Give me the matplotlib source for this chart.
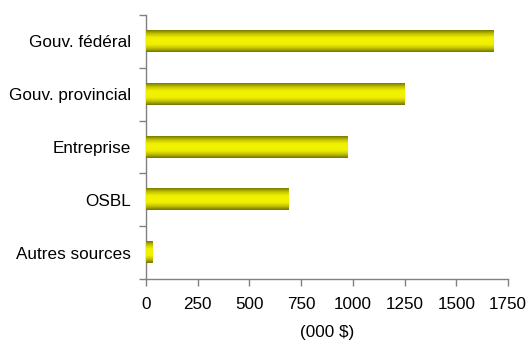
import matplotlib
matplotlib.use('Agg')
import matplotlib.pyplot as plt
from matplotlib.colors import LinearSegmentedColormap
import numpy as np

plt.rcParams['font.family'] = ['Liberation Sans', 'DejaVu Sans']

# Sources de financement (000 $)
sources = ['Gouv. fédéral', 'Gouv. provincial', 'Entreprise', 'OSBL', 'Autres sources']
montants = [1680, 1250, 975, 690, 30]

AXE = '#808080'
# dégradé olive -> jaune -> olive pour l'effet cylindre
cyl = LinearSegmentedColormap.from_list(
    'cyl', ['#7a7a00', '#c4c400', '#eeee00', '#f3f300', '#eeee00', '#c0c000', '#747400'])

fig = plt.figure(figsize=(5.30, 3.43), dpi=100)
ax = fig.add_axes([0.2755, 0.1866, 0.683, 0.7694])

pos = np.arange(len(sources))[::-1]
bars = ax.barh(pos, montants, height=0.4, color='#f0f000', edgecolor='none')

grad = np.linspace(0, 1, 64).reshape(-1, 1)
for b in bars:
    x0, y0 = b.get_x(), b.get_y()
    w, h = b.get_width(), b.get_height()
    ax.imshow(grad, cmap=cyl, aspect='auto', origin='upper',
              extent=[x0, x0 + w, y0, y0 + h], zorder=3, interpolation='bilinear')

ax.set_xlim(0, 1750)
ax.set_ylim(-0.5, len(sources) - 0.5)
ax.set_xticks(np.arange(0, 1751, 250))
ax.set_yticks(pos)
ax.set_yticklabels(sources)
ax.set_yticks(np.arange(-0.5, len(sources), 1), minor=True)

ax.tick_params(axis='y', which='major', length=0, pad=11, labelsize=12.3, labelcolor='black')
ax.tick_params(axis='y', which='minor', length=5, width=1, color=AXE, direction='out')
ax.tick_params(axis='x', length=5, width=1, color=AXE, direction='out', pad=8,
               labelsize=12.3, labelcolor='black')

for s in ['top', 'right']:
    ax.spines[s].set_visible(False)
for s in ['left', 'bottom']:
    ax.spines[s].set_color(AXE)
    ax.spines[s].set_linewidth(1)

ax.set_xlabel('(000 $)', fontsize=12.3, labelpad=9)

fig.savefig('out.png', dpi=100, facecolor='white')
